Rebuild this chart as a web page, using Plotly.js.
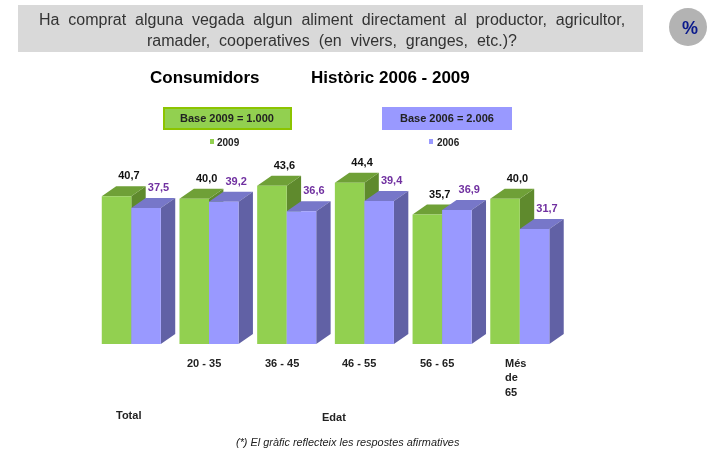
<!DOCTYPE html>
<html><head><meta charset="utf-8">
<script src="https://cdn.plot.ly/plotly-3.0.1.min.js"></script>
<style>html,body{margin:0;padding:0;background:#fff}#c{width:707px;height:449px;filter:blur(0.5px)}</style>
</head><body><div id="c"></div>
<script>
const groupIndex = [0, 1, 2, 3, 4, 5];
const categories = ["Total", "20 - 35", "36 - 45", "46 - 55", "56 - 65", "Més<br>de<br>65"];
const values2009 = [40.7, 40.0, 43.6, 44.4, 35.7, 40.0];
const values2006 = [37.5, 39.2, 36.6, 39.4, 36.9, 31.7];
const labels2009 = ["40,7", "40,0", "43,6", "44,4", "35,7", "40,0"];
const labels2006 = ["37,5", "39,2", "36,6", "39,4", "36,9", "31,7"];

const W = 707, H = 449, L = 90, R = 580, T = 150, B = 344;
const pxPerGroup = 77.7, pxPerUnit = 3.63, x0px = 131.3;
const px = p => (p - L) / (R - L);
const py = p => (B - p) / (B - T);
const halfBar = 0.38, depthX = 14.4 / pxPerGroup, depthY = 10 / pxPerUnit;

function topFaces(vals, a, b) {
  const xs = [], ys = [];
  vals.forEach((v, i) => {
    xs.push(i + a, i + b, i + b + depthX, i + a + depthX, i + a, null);
    ys.push(v, v, v + depthY, v + depthY, v, null);
  });
  return {x: xs, y: ys};
}
function sideFaces(vals, b) {
  const xs = [], ys = [];
  vals.forEach((v, i) => {
    xs.push(i + b, i + b + depthX, i + b + depthX, i + b, i + b, null);
    ys.push(0, depthY, v + depthY, v, 0, null);
  });
  return {x: xs, y: ys};
}
function face(d, color, z) {
  return {type: 'scatter', mode: 'lines', x: d.x, y: d.y, fill: 'toself', fillcolor: color,
    line: {width: 0, color: color}, hoverinfo: 'skip', showlegend: false, zorder: z, cliponaxis: false};
}
const traces = [
  face(sideFaces(values2009, 0), '#5f8a2d', 0),
  face(topFaces(values2009, -halfBar, 0), '#6fa037', 1),
  face(topFaces(values2006, 0, halfBar), '#7777c9', 2),
  face(sideFaces(values2006, halfBar), '#6161a5', 2),
  {type: 'bar', name: '2009', x: groupIndex, y: values2009, marker: {color: '#92d050'}, zorder: 3, offsetgroup: 'a', hoverinfo: 'skip'},
  {type: 'bar', name: '2006', x: groupIndex, y: values2006, marker: {color: '#9999ff'}, zorder: 3, offsetgroup: 'b', hoverinfo: 'skip'},
  {type: 'scatter', mode: 'text', x: groupIndex.map(i => i - 0.03), y: values2009.map(v => v + 5.4), text: labels2009.map(s => '<b>' + s + '</b>'),
    textfont: {family: 'Liberation Sans', size: 11, color: '#111'}, textposition: 'middle center', hoverinfo: 'skip', showlegend: false, zorder: 4, cliponaxis: false},
  {type: 'scatter', mode: 'text', x: groupIndex.map(i => i + 0.35), y: values2006.map(v => v + 5.4), text: labels2006.map(s => '<b>' + s + '</b>'),
    textfont: {family: 'Liberation Sans', size: 11, color: '#7030a0'}, textposition: 'middle center', hoverinfo: 'skip', showlegend: false, zorder: 4, cliponaxis: false}
];

const note = (text, x, y, size, color) => ({
  text: text, xref: 'paper', yref: 'paper', x: px(x), y: py(y), xanchor: 'center', yanchor: 'middle',
  showarrow: false, font: {family: 'Liberation Sans', size: size, color: color || '#222'}
});
const rect = (x1, y1, x2, y2, fill, line, lw) => ({
  type: 'rect', xref: 'paper', yref: 'paper', x0: px(x1), x1: px(x2), y0: py(y1), y1: py(y2),
  fillcolor: fill, line: {color: line || fill, width: lw || 0}, layer: 'below'
});

const annotations = [
  note('Ha  comprat  alguna  vegada  algun  aliment  directament  al  productor,  agricultor,', 332, 19, 16, '#333'),
  note('ramader,  cooperatives  (en  vivers,  granges,  etc.)?', 332, 40, 16, '#333'),
  note('<b>%</b>', 690, 28, 18, '#0a1a8c'),
  note('<b>Consumidors</b>', 204.5, 77, 17, '#000'),
  note('<b>Històric 2006 - 2009</b>', 390.5, 77, 17, '#000'),
  note('<b>Base 2009 = 1.000</b>', 227, 118, 11),
  note('<b>Base 2006 = 2.006</b>', 447, 118, 11),
  note('<b>2009</b>', 228, 142, 10),
  note('<b>2006</b>', 448, 142, 10),
  note('<b>Total</b>', 128, 415, 11),
  note('<b>Edat</b>', 334, 417, 11),
  note('<i>(*) El gràfic reflecteix les respostes afirmatives</i>', 347.5, 442, 10.9)
];
groupIndex.slice(1).forEach(i => {
  const last = i === 5;
  annotations.push({
    text: '<b>' + categories[i] + '</b>', xref: 'x', yref: 'paper', x: i, xshift: last ? -17 : -5,
    xanchor: last ? 'left' : 'center', align: 'left', y: py(355), yanchor: 'top', showarrow: false,
    font: {family: 'Liberation Sans', size: 11, color: '#222'}
  });
});

const shapes = [
  rect(18, 5, 643, 52, '#d9d9d9'),
  {type: 'circle', xref: 'paper', yref: 'paper', x0: px(669), x1: px(707), y0: py(8), y1: py(46), fillcolor: '#b3b3b3', line: {width: 0}, layer: 'below'},
  rect(164, 108, 291, 129, '#92d050', '#8cc400', 2),
  rect(382, 107, 512, 130, '#9999ff'),
  rect(210, 139, 214, 144, '#92d050'),
  rect(429, 139, 433, 144, '#9999ff')
];

Plotly.newPlot('c', traces, {
  width: W, height: H, autosize: false, showlegend: false,
  paper_bgcolor: '#fff', plot_bgcolor: '#fff',
  margin: {l: L, r: W - R, t: T, b: H - B, pad: 0},
  barmode: 'group', bargap: 0.24, bargroupgap: 0,
  xaxis: {type: 'linear', range: [(L - x0px) / pxPerGroup, (R - x0px) / pxPerGroup], showgrid: false, zeroline: false, showticklabels: false, ticks: '', showline: false},
  yaxis: {range: [0, (B - T) / pxPerUnit], showgrid: false, zeroline: false, showticklabels: false, ticks: '', showline: false},
  annotations: annotations, shapes: shapes
}, {displayModeBar: false, staticPlot: true});
</script></body></html>
